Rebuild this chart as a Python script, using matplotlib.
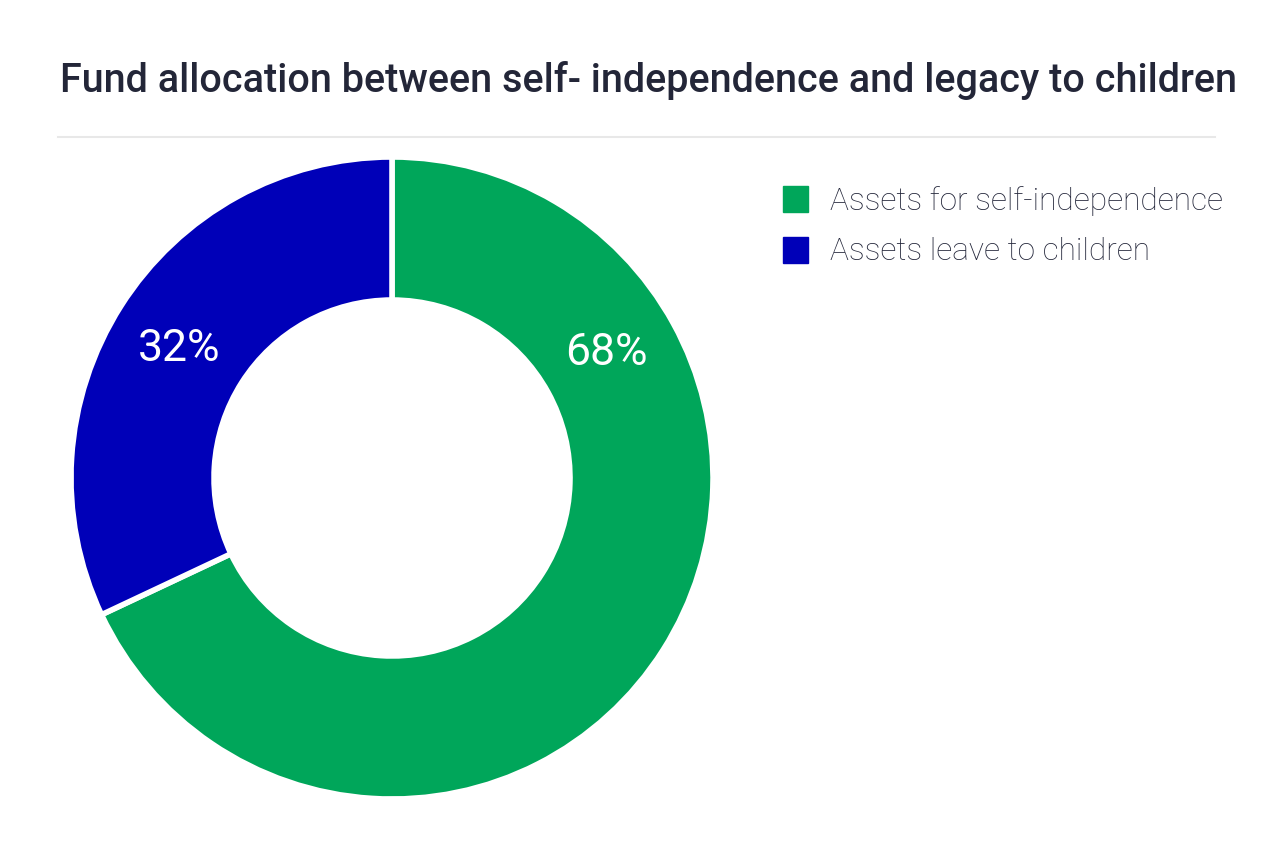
import matplotlib
matplotlib.use("Agg")
import matplotlib.pyplot as plt
import numpy as np
from matplotlib.patches import Rectangle
from matplotlib.lines import Line2D

title = "Fund allocation between self- independence and legacy to children"
categories = ["Assets for self-independence", "Assets leave to children"]
values = [68, 32]
colors = ["#00A65A", "#0000B8"]
labels = ["68%", "32%"]

W, H = 1280, 854
fig = plt.figure(figsize=(W / 100, H / 100), dpi=100)
fig.patch.set_facecolor("white")

# title
fig.text(60 / W, 1 - 80 / H, title, fontsize=28.5, fontweight="medium",
         family=["Roboto", "DejaVu Sans"], color="#232638", ha="left", va="center")
# separator
fig.add_artist(Line2D([58 / W, 1215 / W], [1 - 138 / H, 1 - 138 / H],
                      color="#e8e8e8", lw=1.5))

# donut
cx, cy, R, r_in = 392, 479, 321, 178
box = 340
ax = fig.add_axes([(cx - box) / W, (H - cy - box) / H, 2 * box / W, 2 * box / H])
wedges, _ = ax.pie(values, colors=colors, startangle=90, counterclock=False,
                   radius=R, wedgeprops=dict(width=R - r_in, edgecolor="white", linewidth=4))
ax.set_xlim(-box, box)
ax.set_ylim(-box, box)
ax.axis("off")

# labels
rm = 250
angles = [30.8, 148.2]
for lab, a in zip(labels, angles):
    ax.text(rm * np.cos(np.radians(a)), rm * np.sin(np.radians(a)) - 2, lab,
            fontsize=32, color="white", ha="center", va="center",
            family=["Roboto", "DejaVu Sans"])

# legend
for i, (cat, col) in enumerate(zip(categories, colors)):
    yc = 200 + i * 51
    fig.add_artist(Rectangle((783 / W, 1 - (yc + 13) / H), 25 / W, 26 / H,
                             transform=fig.transFigure, color=col))
    fig.text(830 / W, 1 - (yc + 1) / H, cat, fontsize=22.8, fontweight="light",
             family=["Roboto", "DejaVu Sans"], color="#23263a", ha="left", va="center")

fig.savefig("out.png", dpi=100)
